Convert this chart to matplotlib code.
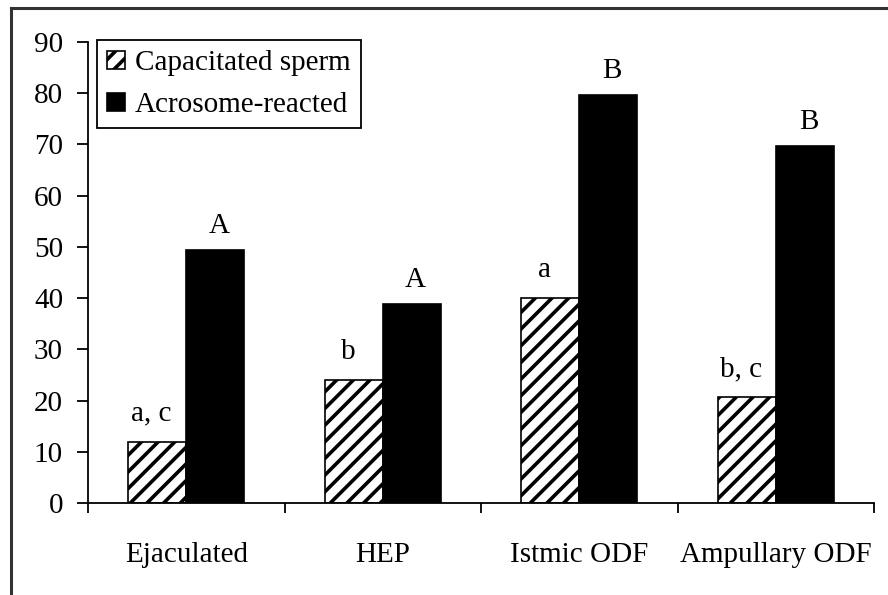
import matplotlib
matplotlib.use("Agg")
import matplotlib.pyplot as plt
from matplotlib.lines import Line2D
import numpy as np

plt.rcParams["font.family"] = ["Liberation Serif", "DejaVu Serif"]
plt.rcParams["hatch.linewidth"] = 2.6

categories = ["Ejaculated", "HEP", "Istmic ODF", "Ampullary ODF"]
capacitated = [12, 24, 40, 20.6]
acrosome_reacted = [49.4, 38.9, 79.7, 69.7]
cap_letters = ["a, c", "b", "a", "b, c"]
ar_letters = ["A", "A", "B", "B"]
y_ticks = [0, 10, 20, 30, 40, 50, 60, 70, 80, 90]

FS = 21
W, H = 888, 595

fig = plt.figure(figsize=(W / 100, H / 100), dpi=100)
fig.patch.set_facecolor("white")
ax = fig.add_axes([88 / W, 1 - 503 / H, 786 / W, 461 / H])

x = np.arange(len(categories))
bw = 0.295

ax.bar(x - bw / 2, capacitated, bw, color="white", edgecolor="black",
       hatch="//", linewidth=1.2, label="Capacitated sperm", zorder=2)
ax.bar(x + bw / 2, acrosome_reacted, bw, color="black", edgecolor="black",
       linewidth=1.2, label="Acrosome-reacted", zorder=2)

for xi, v, t in zip(x, capacitated, cap_letters):
    ax.annotate(t, (xi - bw / 2 - 0.03, v), xytext=(0, 11), textcoords="offset points",
                ha="center", va="bottom", fontsize=FS)
for xi, v, t in zip(x, acrosome_reacted, ar_letters):
    ax.annotate(t, (xi + bw / 2 + 0.02, v), xytext=(0, 8), textcoords="offset points",
                ha="center", va="bottom", fontsize=FS)

ax.set_xlim(-0.5, len(categories) - 0.5)
ax.set_ylim(0, 90)
ax.set_yticks(y_ticks)
ax.set_xticks(x)
ax.set_xticklabels(categories)
ax.set_xticks(np.arange(len(categories) + 1) - 0.5, minor=True)

ax.tick_params(axis="y", direction="out", length=8, width=1.3, pad=10, labelsize=FS)
ax.tick_params(axis="x", which="major", length=0, pad=28, labelsize=FS)
ax.tick_params(axis="x", which="minor", direction="out", length=7, width=1.3)

for s in ["top", "right"]:
    ax.spines[s].set_visible(False)
for s in ["left", "bottom"]:
    ax.spines[s].set_linewidth(1.3)

leg = ax.legend(loc="upper left", bbox_to_anchor=(97 / W, 1 - 40 / H),
                bbox_transform=fig.transFigure, borderaxespad=0, fontsize=FS,
                frameon=True, fancybox=False, edgecolor="black", framealpha=1,
                handlelength=0.6, handleheight=0.6, handletextpad=0.35,
                labelspacing=0.55, borderpad=0.35)
leg.get_frame().set_linewidth(1.3)

# outer frame (only left and top edges visible in the crop)
fig.add_artist(Line2D([11 / W, 11 / W], [0, 1 - 8 / H], transform=fig.transFigure,
                      color="#333333", linewidth=2.2))
fig.add_artist(Line2D([11 / W, 1], [1 - 8 / H, 1 - 8 / H], transform=fig.transFigure,
                      color="#333333", linewidth=2.2))

fig.savefig("out.png", dpi=100, facecolor="white")
